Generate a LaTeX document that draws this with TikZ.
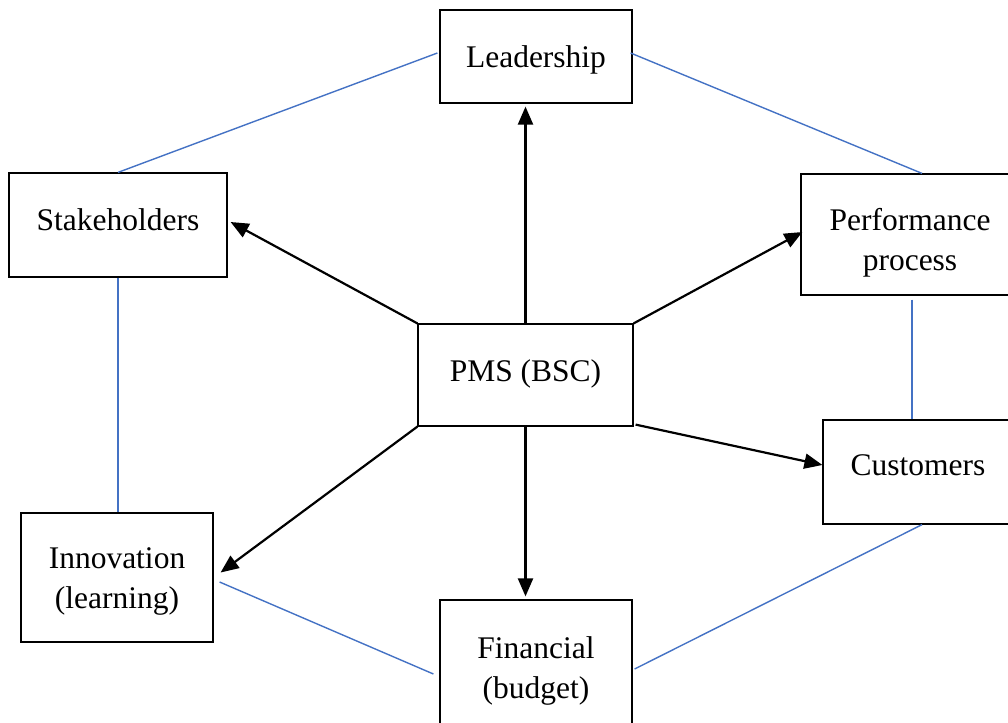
\documentclass[tikz,border=0pt]{standalone}
\usepackage{fontspec}
\setmainfont{Liberation Serif}
\usetikzlibrary{arrows.meta}
\definecolor{linkblue}{HTML}{4472C4}
\begin{document}
\begin{tikzpicture}[
	x = 1pt,%pixel grid of the reference
	y = -1pt,
	auto,
	box/.style = {draw, line width=1.2pt, align=center, inner sep=0pt,
		font=\fontsize{31.5}{40}\selectfont},
	arr/.style = {line width=2.2pt, -{Triangle[length=18pt,width=15pt]}},
	link/.style = {linkblue, line width=1.4pt}
]
\useasboundingbox (0,0) rectangle (1008,722);
\clip (0,0) rectangle (1008,722);
%
\node(p_pms)%
    [box, minimum width=215pt, text height=57pt, text depth=45pt]%
    at (525.5,375) {PMS (BSC)};%
\node(p_lead)%
    [box, minimum width=192pt, text height=58pt, text depth=35pt]%
    at (536,56.5) {Leadership};%
\node(p_stake)%
    [box, minimum width=218pt, text height=57pt, text depth=47pt]%
    at (118,225) {Stakeholders};%
\node(p_perf)%
    [box, minimum width=218pt, text height=96pt, text depth=25pt]%
    at (910,234.5) {Performance\\process};%
\node(p_cust)%
    [box, minimum width=190pt, text height=55pt, text depth=49pt]%
    at (918,472) {Customers};%
\node(p_innov)%
    [box, minimum width=192pt, text height=95pt, text depth=34pt]%
    at (117,577.5) {Innovation\\(learning)};%
\node(p_fin)%
    [box, minimum width=192pt, text height=98pt, text depth=27pt]%
    at (536,662.5) {Financial\\(budget)};%
%
% arrows out of the centre
\draw[arr] (p_pms.north) -- ([yshift=-3pt]p_pms.north |- p_lead.south);
\draw[arr] (p_pms.north west) -- ([xshift=3pt,yshift=3pt]p_stake.east);
\draw[arr] (p_pms.north east) -- ([xshift=2pt,yshift=2.5pt]p_perf.west);
\draw[arr] ([xshift=2pt,yshift=2pt]p_pms.south east) -- ([yshift=7pt]p_cust.west);
\draw[arr] (p_pms.south west) -- ([xshift=7pt,yshift=5pt]p_innov.east);
\draw[arr] (p_pms.south) -- ([yshift=3pt]p_pms.south |- p_fin.north);
%
% outer ring
\draw[link] ([xshift=-2pt,yshift=3.5pt]p_lead.west) -- (p_stake.north);
\draw[link] ([xshift=-2pt,yshift=3.5pt]p_lead.east) -- ([xshift=12pt]p_perf.north);
\draw[link] (p_stake.south) -- (p_stake.south |- p_innov.north);
\draw[link] ([xshift=2pt,yshift=-4pt]p_perf.south) -- ([xshift=2pt]p_perf.south |- p_cust.north);
\draw[link] ([xshift=6pt,yshift=-4.5pt]p_innov.east) -- ([xshift=-6pt,yshift=-11.5pt]p_fin.west);
\draw[link] ([xshift=4pt]p_cust.south) -- ([xshift=2pt,yshift=-6.5pt]p_fin.east);
%
\end{tikzpicture}
\end{document}
